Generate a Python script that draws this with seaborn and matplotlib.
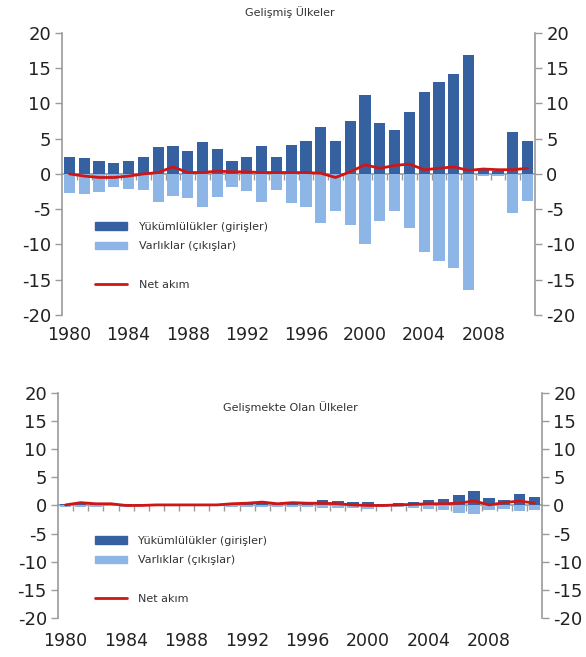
import numpy as np
import pandas as pd
import seaborn as sns
import matplotlib.pyplot as plt
from matplotlib.lines import Line2D
from matplotlib.patches import Patch

# values (% of GDP), 1980-2011
years = list(range(1980, 2012))

dev_liab = [2.4, 2.2, 1.8, 1.6, 1.8, 2.4, 3.8, 4.0, 3.3, 4.5, 3.6, 1.8, 2.4, 4.0, 2.4, 4.1,
            4.6, 6.7, 4.6, 7.5, 11.2, 7.2, 6.2, 8.8, 11.6, 13.0, 14.1, 16.9, 0.5, 0.4, 6.0, 4.6]
dev_assets = [-2.7, -2.9, -2.5, -1.9, -2.2, -2.3, -4.0, -3.1, -3.4, -4.7, -3.3, -1.8, -2.4, -4.0, -2.3, -4.1,
              -4.7, -6.9, -5.2, -7.3, -10.0, -6.7, -5.2, -7.6, -11.1, -12.3, -13.3, -16.5, -0.3, -0.3, -5.5, -3.9]
dev_net = [0.0, -0.3, -0.5, -0.5, -0.3, 0.0, 0.2, 1.0, 0.2, 0.2, 0.4, 0.3, 0.3, 0.2, 0.2, 0.2,
           0.2, 0.1, -0.5, 0.3, 1.3, 0.8, 1.2, 1.4, 0.6, 0.8, 1.0, 0.5, 0.7, 0.6, 0.6, 0.8]

emg_liab = [0.3, 0.7, 0.5, 0.4, 0.2, 0.2, 0.2, 0.2, 0.2, 0.3, 0.3, 0.5, 0.6, 0.7, 0.5, 0.6,
            0.6, 0.9, 0.8, 0.6, 0.6, 0.3, 0.4, 0.7, 1.0, 1.2, 1.8, 2.6, 1.4, 0.9, 2.1, 1.5]
emg_assets = [-0.2, -0.2, -0.2, -0.1, -0.2, -0.1, -0.1, -0.1, -0.1, -0.1, -0.1, -0.2, -0.2, -0.2, -0.2, -0.2,
              -0.2, -0.4, -0.5, -0.5, -0.6, -0.3, -0.3, -0.5, -0.6, -0.8, -1.4, -1.6, -0.8, -0.7, -1.0, -0.8]
emg_net = [0.1, 0.5, 0.3, 0.3, 0.0, 0.0, 0.1, 0.1, 0.1, 0.1, 0.1, 0.3, 0.4, 0.6, 0.3, 0.5,
           0.4, 0.4, 0.3, 0.1, 0.0, 0.0, 0.1, 0.2, 0.3, 0.3, 0.4, 0.8, 0.1, 0.5, 0.8, 0.4]

year_labels = [1980, 1984, 1988, 1992, 1996, 2000, 2004, 2008]
y_ticks = [20, 15, 10, 5, 0, -5, -10, -15, -20]
lbl_liab = "Yükümlülükler (girişler)"
lbl_assets = "Varlıklar (çıkışlar)"
lbl_net = "Net akım"

DARK = "#3661a1"
LIGHT = "#8db5e6"
RED = "#d01515"
GRAY = "#9a9a9a"
TXT = "#333333"

sns.set_style("white")
plt.rcParams["font.family"] = ["DejaVu Sans"]

fig = plt.figure(figsize=(5.86, 6.57), dpi=100)
ax_top = fig.add_axes([0.106, 0.5205, 0.807, 0.4295])
ax_bot = fig.add_axes([0.099, 0.0594, 0.826, 0.3425])


def panel(ax, liab, assets, net, label_pad, leg_xy):
    df = pd.DataFrame({"year": years, "liab": liab, "assets": assets, "net": net})
    sns.barplot(data=df, x="year", y="liab", ax=ax, color=DARK, saturation=1,
                native_scale=True, width=0.76, errorbar=None, linewidth=0)
    sns.barplot(data=df, x="year", y="assets", ax=ax, color=LIGHT, saturation=1,
                native_scale=True, width=0.76, errorbar=None, linewidth=0)
    sns.lineplot(data=df, x="year", y="net", ax=ax, color=RED, linewidth=2)

    ax.set_xlim(1979.5, 2011.5)
    ax.set_ylim(-20, 20)
    ax.set_xlabel("")
    ax.set_ylabel("")
    ax.set_xticks(year_labels)
    ax.set_xticklabels([str(y) for y in year_labels])
    ax.tick_params(axis="x", length=0, pad=label_pad, labelsize=12.5, labelcolor="#222222")
    ax.set_yticks(y_ticks)
    ax.set_yticklabels([str(v) for v in y_ticks])
    ax.tick_params(axis="y", direction="out", length=5, width=1, color=GRAY, pad=3,
                   labelsize=13, labelcolor="#222222", left=True)
    for s in ["top", "right", "bottom"]:
        ax.spines[s].set_visible(False)
    ax.spines["left"].set_color(GRAY)
    ax.spines["left"].set_linewidth(1.2)

    # zero line with category-boundary ticks
    sec = ax.secondary_xaxis(0.5)
    sec.set_alignment("bottom")
    sec.set_xticks(np.arange(1980.5, 2011, 1))
    sec.set_xticklabels([])
    sec.tick_params(axis="x", direction="out", length=4, width=1, color=GRAY)
    sec.spines["bottom"].set_color(GRAY)
    sec.spines["bottom"].set_linewidth(1.2)

    ax2 = ax.twinx()
    ax2.set_ylim(-20, 20)
    ax2.set_yticks(y_ticks)
    ax2.set_yticklabels([str(v) for v in y_ticks])
    ax2.tick_params(axis="y", direction="out", length=5, width=1, color=GRAY, pad=3,
                    labelsize=13, labelcolor="#222222", right=True)
    ax2.grid(False)
    for s in ["top", "left", "bottom"]:
        ax2.spines[s].set_visible(False)
    ax2.spines["right"].set_color(GRAY)
    ax2.spines["right"].set_linewidth(1.2)

    handles = [Patch(color=DARK), Patch(color=LIGHT),
               Line2D([], [], color="none"), Line2D([], [], color=RED, linewidth=2)]
    labels = [lbl_liab, lbl_assets, " ", lbl_net]
    ax.legend(handles, labels, loc="upper left", bbox_to_anchor=leg_xy, frameon=False,
              fontsize=8, handlelength=2.9, handleheight=0.7, handletextpad=1.0,
              labelspacing=0.85, borderaxespad=0, borderpad=0, labelcolor=TXT)


panel(ax_top, dev_liab, dev_assets, dev_net, 8, (0.07, 0.33))
panel(ax_bot, emg_liab, emg_assets, emg_net, 10, (0.076, 0.365))

fig.text(0.495, 0.982, "Gelişmiş Ülkeler", ha="center", va="center", fontsize=8, color=TXT)
fig.text(0.495, 0.380, "Gelişmekte Olan Ülkeler", ha="center", va="center", fontsize=8, color=TXT)

fig.savefig("out.png", dpi=100)
